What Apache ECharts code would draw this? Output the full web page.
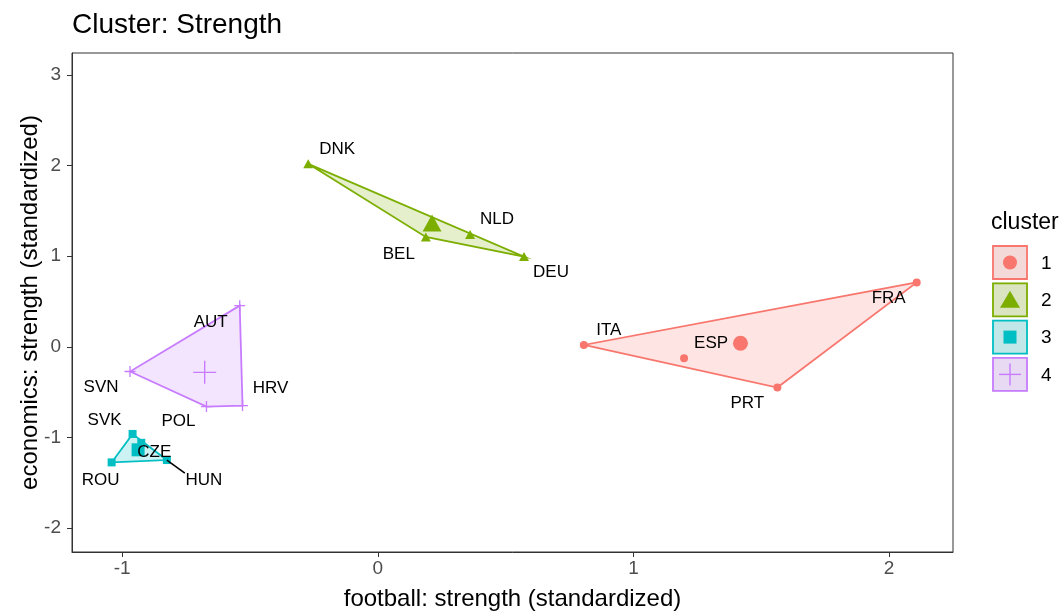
<!DOCTYPE html>
<html><head><meta charset="utf-8">
<script src="https://cdn.jsdelivr.net/npm/echarts@6/dist/echarts.min.js"></script>
<style>html,body{margin:0;padding:0;background:#fff}#c{width:1062px;height:611px}</style>
</head><body><div id="c"></div>
<script>
// ---- data ----
const clusterNames = ['1', '2', '3', '4'];
const cluster1Countries = ['ITA', 'ESP', 'FRA', 'PRT'];
const cluster1Football  = [0.806, 1.198, 2.108, 1.563];
const cluster1Economics = [0.02, -0.125, 0.711, -0.45];
const cluster2Countries = ['DNK', 'BEL', 'NLD', 'DEU'];
const cluster2Football  = [-0.272, 0.188, 0.361, 0.572];
const cluster2Economics = [2.02, 1.213, 1.239, 0.996];
const cluster3Countries = ['SVK', 'ROU', 'HUN', 'CZE'];
const cluster3Football  = [-0.959, -1.041, -0.825, -0.925];
const cluster3Economics = [-0.962, -1.276, -1.25, -1.06];
const cluster4Countries = ['AUT', 'SVN', 'POL', 'HRV'];
const cluster4Football  = [-0.540, -0.969, -0.670, -0.529];
const cluster4Economics = [0.454, -0.273, -0.660, -0.649];
const xTicks = [-1, 0, 1, 2];
const yTicks = [-2, -1, 0, 1, 2, 3];

// ---- layout / style (not data) ----
const FONT = '"Liberation Sans", Arial, Helvetica, sans-serif';
const colors = ['#F8766D', '#7CAE00', '#00BFC4', '#C77CFF'];
const fills = ['rgba(248,118,109,0.2)', 'rgba(124,174,0,0.2)', 'rgba(0,191,196,0.2)', 'rgba(199,124,255,0.2)'];
// label nudges in pixels (ggrepel-like placement)
const labelNudge = {
  ITA: [25, -15], ESP: [27, -15], FRA: [-28, 16], PRT: [-30, 16],
  DNK: [29, -14], BEL: [-27, 17], NLD: [27, -15], DEU: [27, 16],
  SVK: [-28, -14], ROU: [-11, 18], HUN: [37, 20], CZE: [13, 9],
  AUT: [-29, 17], SVN: [-29, 16], POL: [-28, 15], HRV: [28, -17]
};
const segmentLabels = ['HUN'];
const plusSmall = 'path://M0,8.8H20V11.2H0Z M8.8,0H11.2V20H8.8Z';
const plusBig = 'path://M0,9.4H20V10.6H0Z M9.4,0H10.6V20H9.4Z';
const symbolsSmall = ['circle', 'triangle', 'rect', plusSmall];
const symbolsBig = ['circle', 'triangle', 'rect', plusBig];
const sizeSmall = [8, [10, 9], 8, 11];
const sizeBig = [15, [19, 17], 13, 23];

const clusters = [
  [cluster1Countries, cluster1Football, cluster1Economics],
  [cluster2Countries, cluster2Football, cluster2Economics],
  [cluster3Countries, cluster3Football, cluster3Economics],
  [cluster4Countries, cluster4Football, cluster4Economics]
];

function hull(points) {
  const p = points.slice().sort((a, b) => a[0] - b[0] || a[1] - b[1]);
  const cross = (o, a, b) => (a[0] - o[0]) * (b[1] - o[1]) - (a[1] - o[1]) * (b[0] - o[0]);
  const lower = [], upper = [];
  for (const pt of p) { while (lower.length >= 2 && cross(lower[lower.length - 2], lower[lower.length - 1], pt) <= 0) lower.pop(); lower.push(pt); }
  for (let i = p.length - 1; i >= 0; i--) { const pt = p[i]; while (upper.length >= 2 && cross(upper[upper.length - 2], upper[upper.length - 1], pt) <= 0) upper.pop(); upper.push(pt); }
  upper.pop(); lower.pop();
  return lower.concat(upper);
}

const series = [];
const labelData = [];
clusters.forEach((c, k) => {
  const [names, xs, ys] = c;
  const pts = xs.map((x, i) => [x, ys[i]]);
  const h = hull(pts);
  series.push({
    type: 'custom', name: clusterNames[k], data: h, encode: { x: 0, y: 1 }, clip: true, z: 1,
    renderItem: function (params, api) {
      if (params.dataIndex !== 0) return null;
      const coords = h.map(p => api.coord(p));
      return { type: 'polygon', shape: { points: coords }, style: { fill: fills[k], stroke: colors[k], lineWidth: 1.8 } };
    }
  });
  series.push({
    type: 'scatter', data: pts, symbol: symbolsSmall[k], symbolSize: sizeSmall[k], z: 3,
    itemStyle: { color: colors[k], opacity: 1 }, silent: true
  });
  const cx = xs.reduce((a, b) => a + b, 0) / xs.length;
  const cy = ys.reduce((a, b) => a + b, 0) / ys.length;
  series.push({
    type: 'scatter', data: [[cx, cy]], symbol: symbolsBig[k], symbolSize: sizeBig[k], z: 3,
    itemStyle: { color: colors[k], opacity: 1 }, silent: true
  });
  names.forEach((n, i) => labelData.push([xs[i], ys[i], n]));
});

series.push({
  type: 'custom', data: labelData, encode: { x: 0, y: 1 }, z: 10, silent: true,
  renderItem: function (params, api) {
    const d = labelData[params.dataIndex];
    const p = api.coord([d[0], d[1]]);
    const nd = labelNudge[d[2]];
    const tx = p[0] + nd[0], ty = p[1] + nd[1];
    const children = [{
      type: 'text', style: { text: d[2], x: tx, y: ty, align: 'center', verticalAlign: 'middle',
        fill: '#000', font: '17px ' + FONT }
    }];
    if (segmentLabels.indexOf(d[2]) >= 0) {
      const hw = 19, hh = 7;
      const ex = Math.min(Math.max(p[0], tx - hw), tx + hw);
      const ey = Math.min(Math.max(p[1], ty - hh), ty + hh);
      children.unshift({ type: 'line', shape: { x1: p[0], y1: p[1], x2: ex, y2: ey }, style: { stroke: '#000', lineWidth: 1.6 } });
    }
    return { type: 'group', children: children };
  }
});

// legend as graphic (ggplot-style keys)
const legendChildren = [{
  type: 'text', style: { text: 'cluster', x: 991, y: 223, verticalAlign: 'middle', fill: '#000', font: '23px ' + FONT }
}];
const keyX = 992, keyY0 = 245, keyStep = 37.3, keyW = 36, keyH = 35;
clusterNames.forEach((n, k) => {
  const y = keyY0 + k * keyStep;
  const cxk = keyX + keyW / 2, cyk = y + keyH / 2;
  legendChildren.push({ type: 'rect', shape: { x: keyX, y: y, width: keyW, height: keyH },
    style: { fill: '#F2F2F2', stroke: null } });
  legendChildren.push({ type: 'rect', shape: { x: keyX + 1, y: y + 1, width: keyW - 2, height: keyH - 2 },
    style: { fill: fills[k], stroke: colors[k], lineWidth: 1.8 } });
  let sym;
  if (k === 0) sym = { type: 'circle', shape: { cx: cxk, cy: cyk, r: 7 }, style: { fill: colors[k] } };
  else if (k === 1) sym = { type: 'polygon', shape: { points: [[cxk, cyk - 9], [cxk + 10, cyk + 8], [cxk - 10, cyk + 8]] }, style: { fill: colors[k] } };
  else if (k === 2) sym = { type: 'rect', shape: { x: cxk - 6.5, y: cyk - 6.5, width: 13, height: 13 }, style: { fill: colors[k] } };
  else sym = { type: 'group', children: [
    { type: 'rect', shape: { x: cxk - 11, y: cyk - 0.7, width: 22, height: 1.4 }, style: { fill: colors[k] } },
    { type: 'rect', shape: { x: cxk - 0.7, y: cyk - 11, width: 1.4, height: 22 }, style: { fill: colors[k] } }
  ] };
  legendChildren.push(sym);
  legendChildren.push({ type: 'text', style: { text: n, x: 1041, y: cyk + 1, verticalAlign: 'middle', fill: '#000', font: '19px ' + FONT } });
});

const chart = echarts.init(document.getElementById('c'), null, { renderer: 'canvas' });
chart.setOption({
  animation: false,
  backgroundColor: '#fff',
  title: { text: 'Cluster: Strength', left: 67, top: 6,
    textStyle: { fontSize: 28, fontWeight: 'normal', color: '#000', fontFamily: FONT } },
  grid: { left: 72, right: 109, top: 53, bottom: 59, show: true, borderColor: '#333', borderWidth: 1,
    backgroundColor: '#fff', outerBoundsMode: 'none', containLabel: false },
  xAxis: {
    type: 'value', min: -1.196, max: 2.25,
    name: 'football: strength (standardized)', nameLocation: 'middle', nameGap: 35, nameMoveOverlap: false,
    nameTextStyle: { fontSize: 24, color: '#000', fontFamily: FONT },
    axisLine: { show: true, onZero: false, lineStyle: { color: '#333' } },
    axisTick: { show: true, length: 5, lineStyle: { color: '#333' }, customValues: xTicks },
    axisLabel: { color: '#4D4D4D', fontSize: 19, margin: 7, customValues: xTicks, fontFamily: FONT },
    splitLine: { show: false }
  },
  yAxis: {
    type: 'value', min: -2.265, max: 3.243,
    name: 'economics: strength (standardized)', nameLocation: 'middle', nameGap: 30, nameRotate: 90, nameMoveOverlap: false,
    nameTextStyle: { fontSize: 24, color: '#000', fontFamily: FONT },
    axisLine: { show: true, onZero: false, lineStyle: { color: '#333' } },
    axisTick: { show: true, length: 5, lineStyle: { color: '#333' }, customValues: yTicks },
    axisLabel: { color: '#4D4D4D', fontSize: 19, margin: 11, customValues: yTicks, fontFamily: FONT },
    splitLine: { show: false }
  },
  graphic: [{ type: 'group', children: legendChildren }],
  series: series
});
</script></body></html>
